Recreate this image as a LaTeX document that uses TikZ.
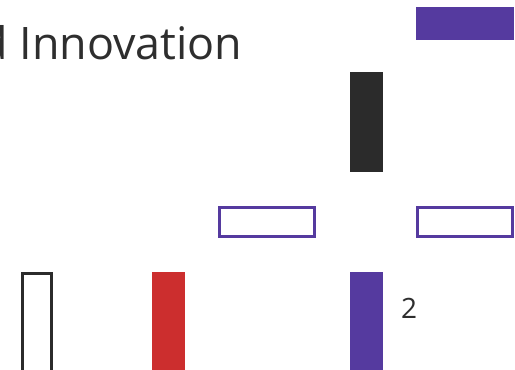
\documentclass[tikz,border=0pt]{standalone}
\usepackage{fontspec}
\setmainfont{Open Sans}
\definecolor{vio}{HTML}{553A9F}
\definecolor{rd}{HTML}{CC2E2E}
\definecolor{dk}{HTML}{2B2B2B}
\definecolor{txt}{HTML}{2E2E2E}
\begin{document}
\begin{tikzpicture}[x=1pt,y=-1pt,
  filledbar/.style={fill=#1,draw=none},
  outlinebar/.style={draw=#1,line width=3pt,fill=none}]
\useasboundingbox (0,0) rectangle (515,370);
\clip (0,0) rectangle (515,370);
\fill[white] (0,0) rectangle (515,370);
\node[anchor=base west,inner sep=0pt,text=txt,font=\fontsize{44.8}{50}\selectfont] (title) at (-19.7,59) {d Innovation};
\node[anchor=base west,inner sep=0pt,text=txt,font=\fontsize{28}{32}\selectfont] (two) at (401,318) {2};
\path[filledbar=vio] (416,7) rectangle (514,40);
\path[filledbar=dk] (350,72) rectangle (383,172);
\path[outlinebar=vio] (219.5,207.5) rectangle (314.5,236.5);
\path[outlinebar=vio] (417.5,207.5) rectangle (512.5,236.5);
\path[outlinebar=dk] (22.5,273.5) rectangle (51.5,380);
\path[filledbar=rd] (152,272) rectangle (185,380);
\path[filledbar=vio] (350,272) rectangle (383,380);
\end{tikzpicture}
\end{document}
